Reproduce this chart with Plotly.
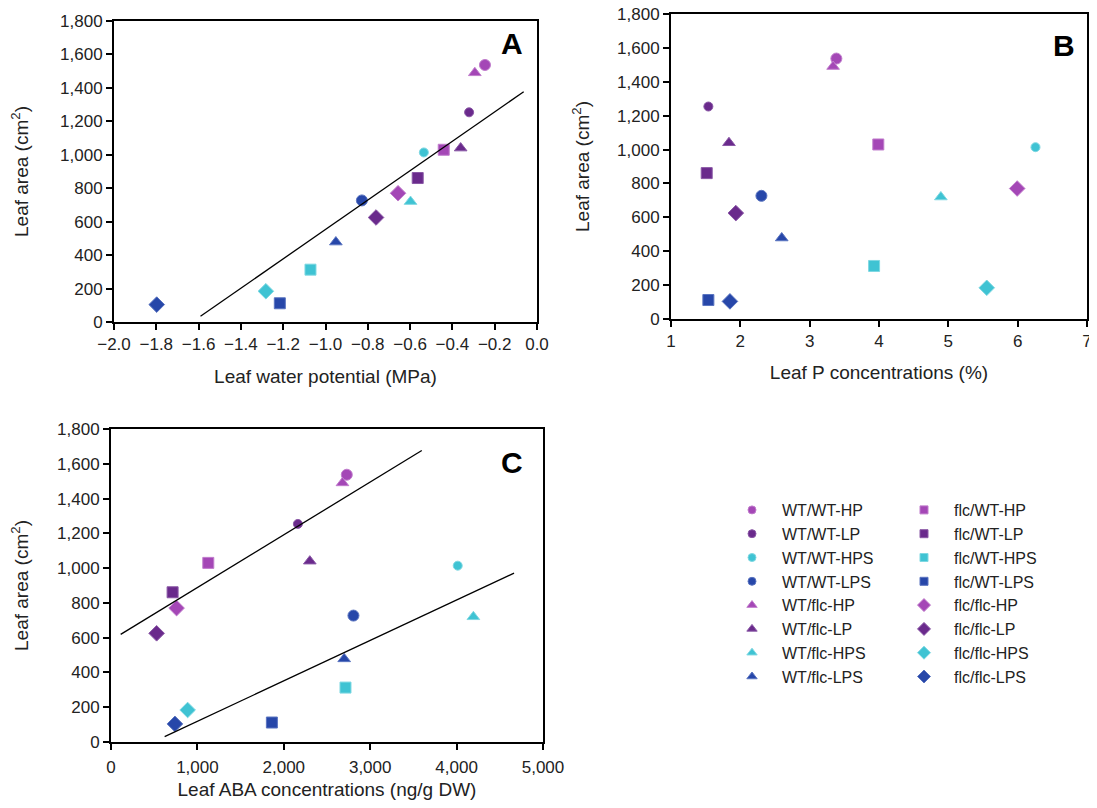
import plotly.graph_objects as go

# ---------------- data ----------------
series_names = ["WT/WT-HP", "WT/WT-LP", "WT/WT-HPS", "WT/WT-LPS",
                "WT/flc-HP", "WT/flc-LP", "WT/flc-HPS", "WT/flc-LPS",
                "flc/WT-HP", "flc/WT-LP", "flc/WT-HPS", "flc/WT-LPS",
                "flc/flc-HP", "flc/flc-LP", "flc/flc-HPS", "flc/flc-LPS"]

leaf_area = [1537, 1254, 1014, 727,
             1490, 1040, 720, 478,
             1030, 861, 313, 112,
             770, 625, 184, 104]

water_potential = [-0.246, -0.321, -0.535, -0.828,
                   -0.294, -0.361, -0.598, -0.951,
                   -0.441, -0.564, -1.071, -1.216,
                   -0.657, -0.761, -1.282, -1.798]

leaf_p = [3.385, 1.539, 6.257, 2.304,
          3.338, 1.836, 4.892, 2.597,
          3.99, 1.515, 3.929, 1.539,
          5.993, 1.935, 5.554, 1.850]

leaf_aba = [2729, 2163, 4013, 2806,
            2679, 2301, 4194, 2699,
            1126, 713, 2714, 1862,
            759, 528, 887, 740]

# regression lines
fitA_x = [-1.591, -0.063]
fitA_y = [34, 1377]
fitC1_x = [112, 3597]
fitC1_y = [619, 1676]
fitC2_x = [621, 4665]
fitC2_y = [31, 971]

yticks = [0, 200, 400, 600, 800, 1000, 1200, 1400, 1600, 1800]

# ---------------- styles ----------------
col = {"HP": "#a447b6", "LP": "#6a2a8c", "HPS": "#3fc3d3", "LPS": "#2747a9"}
edge = {"HP": "#c07ccc", "LP": "#8a58a6", "HPS": "#7fd8e2", "LPS": "#5a74c0"}
sym = {"WT/WT": "circle", "WT/flc": "triangle-up", "flc/WT": "square", "flc/flc": "diamond"}
size = {"WT/WT": 11, "WT/flc": 11, "flc/WT": 11, "flc/flc": 12}
leg_size = {"WT/WT": 8, "WT/flc": 9, "flc/WT": 8, "flc/flc": 10}

FONT = "Liberation Sans, Arial, sans-serif"
TXT = "#222222"

fig = go.Figure()

for i, name in enumerate(series_names):
    geno, trt = name.rsplit("-", 1)
    s = size[geno]
    if name in ("WT/WT-LP", "WT/WT-HPS"):
        s = 9
    marker = dict(symbol=sym[geno], color=col[trt], size=s,
                  line=dict(color=edge[trt], width=1))
    lg = "legend" if geno.startswith("WT") else "legend2"
    # legend-only entry with small marker (as in the reference legend)
    fig.add_trace(go.Scatter(x=[None], y=[None], mode="markers",
                             marker=dict(symbol=sym[geno], color=col[trt], size=leg_size[geno],
                                         line=dict(color=edge[trt], width=1)),
                             name=name, legendgroup=name, showlegend=True, legend=lg,
                             xaxis="x", yaxis="y"))
    fig.add_trace(go.Scatter(x=[water_potential[i]], y=[leaf_area[i]], mode="markers",
                             marker=marker, name=name, legendgroup=name,
                             showlegend=False, xaxis="x", yaxis="y"))
    fig.add_trace(go.Scatter(x=[leaf_p[i]], y=[leaf_area[i]], mode="markers",
                             marker=marker, name=name, legendgroup=name,
                             showlegend=False, xaxis="x2", yaxis="y2"))
    fig.add_trace(go.Scatter(x=[leaf_aba[i]], y=[leaf_area[i]], mode="markers",
                             marker=marker, name=name, legendgroup=name,
                             showlegend=False, xaxis="x3", yaxis="y3"))

line_style = dict(color="black", width=1.3)
fig.add_trace(go.Scatter(x=fitA_x, y=fitA_y, mode="lines", line=line_style,
                         showlegend=False, xaxis="x", yaxis="y", hoverinfo="skip"))
fig.add_trace(go.Scatter(x=fitC1_x, y=fitC1_y, mode="lines", line=line_style,
                         showlegend=False, xaxis="x3", yaxis="y3", hoverinfo="skip"))
fig.add_trace(go.Scatter(x=fitC2_x, y=fitC2_y, mode="lines", line=line_style,
                         showlegend=False, xaxis="x3", yaxis="y3", hoverinfo="skip"))

# the page body has an 8px margin on every side: keep the figure inside the window
OFF = 8
W, H = 1097 - 2 * OFF, 808 - 2 * OFF


def px_dom_x(a, b):
    return [(a - OFF) / W, (b - OFF) / W]


def px_dom_y(top, bottom):
    return [1 - (bottom - OFF) / H, 1 - (top - OFF) / H]


def px_x(a):
    return (a - OFF) / W


def px_y(t):
    return 1 - (t - OFF) / H


axis_common = dict(showline=True, mirror=True, linecolor="black", linewidth=2,
                   ticks="outside", ticklen=6, tickwidth=2, tickcolor="black",
                   showgrid=False, zeroline=False, automargin=False,
                   ticklabeloverflow="allow",
                   tickfont=dict(family=FONT, size=17, color=TXT),
                   title_font=dict(family=FONT, size=19, color=TXT))

ycommon = dict(axis_common, range=[0, 1800], tickmode="array", tickvals=yticks,
               tickformat=",", title_text="Leaf area (cm<sup>2</sup>)")

leg_font = dict(family=FONT, size=16, color=TXT)

fig.update_layout(
    width=W, height=H,
    margin=dict(l=0, r=0, t=0, b=0),
    paper_bgcolor="white", plot_bgcolor="white",
    font=dict(family=FONT, color=TXT),
    xaxis=dict(axis_common, domain=px_dom_x(114, 537), anchor="y",
               range=[-2.0, 0.0], dtick=0.2, tick0=-2.0, tickformat=".1f",
               title_text="Leaf water potential (MPa)", title_standoff=16),
    yaxis=dict(ycommon, domain=px_dom_y(21, 322), anchor="x", title_standoff=27),
    xaxis2=dict(axis_common, domain=px_dom_x(671, 1087), anchor="y2",
                range=[1, 7], dtick=1, tick0=1,
                title_text="Leaf P concentrations (%)", title_standoff=15),
    yaxis2=dict(ycommon, domain=px_dom_y(14, 319), anchor="x2", title_standoff=22),
    xaxis3=dict(axis_common, domain=px_dom_x(111, 543), anchor="y3",
                range=[0, 5000], dtick=1000, tick0=0, tickformat=",",
                ticklabelstandoff=3,
                title_text="Leaf ABA concentrations (ng/g DW)", title_standoff=6),
    yaxis3=dict(ycommon, domain=px_dom_y(429, 742), anchor="x3", title_standoff=27),
    legend=dict(x=px_x(722), y=px_y(493), xanchor="left", yanchor="top",
                font=leg_font, bgcolor="rgba(0,0,0,0)", tracegroupgap=0, itemwidth=50),
    legend2=dict(x=px_x(894), y=px_y(493), xanchor="left", yanchor="top",
                 font=leg_font, bgcolor="rgba(0,0,0,0)", tracegroupgap=0, itemwidth=50),
    annotations=[
        dict(text="<b>A</b>", x=px_x(512), y=px_y(43), xref="paper", yref="paper",
             xanchor="center", yanchor="middle",
             showarrow=False, font=dict(family=FONT, size=30, color="black")),
        dict(text="<b>B</b>", x=px_x(1064), y=px_y(45), xref="paper", yref="paper",
             xanchor="center", yanchor="middle",
             showarrow=False, font=dict(family=FONT, size=30, color="black")),
        dict(text="<b>C</b>", x=px_x(512), y=px_y(462), xref="paper", yref="paper",
             xanchor="center", yanchor="middle",
             showarrow=False, font=dict(family=FONT, size=30, color="black")),
    ],
)

fig.write_html("out.html")
